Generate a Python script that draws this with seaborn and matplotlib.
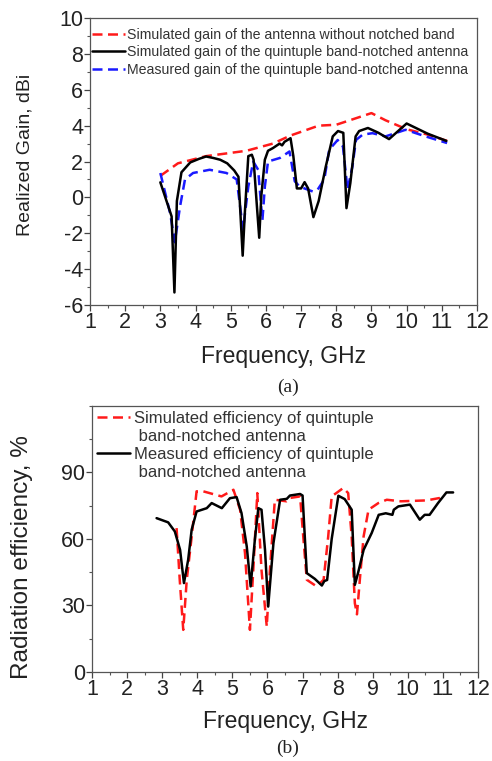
import matplotlib
matplotlib.use("Agg")
import matplotlib.pyplot as plt
import seaborn as sns
import pandas as pd
from matplotlib.lines import Line2D
from matplotlib.ticker import MultipleLocator

# ---------------- data: (a) realized gain ----------------
gain_nonotch_f = [3.0, 3.5, 4.3, 5.45, 6.2, 6.7, 7.5, 8.0, 9.0, 9.4, 10.0, 10.6, 11.15]
gain_nonotch_g = [1.2, 1.9, 2.3, 2.6, 3.0, 3.45, 4.0, 4.05, 4.7, 4.3, 3.8, 3.5, 3.15]

gain_sim_f = [3.0, 3.32, 3.4, 3.47, 3.6, 3.85, 4.1, 4.3, 4.5, 4.7, 4.9, 5.1, 5.22, 5.34,
              5.4, 5.5, 5.6, 5.65, 5.73, 5.81, 5.87, 5.97, 6.06, 6.2, 6.39, 6.46, 6.53,
              6.7, 6.78, 6.88, 7.0, 7.1, 7.2, 7.35, 7.5, 7.7, 7.9, 8.05, 8.2, 8.29, 8.4,
              8.55, 8.65, 8.9, 9.2, 9.5, 10.0, 10.6, 11.13]
gain_sim_g = [0.84, -1.06, -5.3, -0.2, 1.4, 1.95, 2.15, 2.28, 2.2, 2.1, 1.9, 1.5, 1.15, -3.25,
              -0.9, 2.3, 2.38, 2.1, -0.1, -2.25, 0.1, 2.1, 2.6, 2.75, 3.0, 2.9, 3.1,
              3.3, 2.3, 0.5, 0.5, 0.85, 0.5, -1.1, -0.2, 1.7, 3.4, 3.7, 3.6, -0.6, 0.8,
              3.4, 3.7, 3.87, 3.6, 3.25, 4.12, 3.55, 3.15]

gain_meas_f = [3.0, 3.28, 3.41, 3.56, 3.7, 3.93, 4.4, 4.88, 5.17, 5.35, 5.5, 5.64, 5.78,
               5.9, 5.97, 6.06, 6.4, 6.67, 6.82, 6.96, 7.33, 7.47, 7.66, 7.8, 8.04, 8.19,
               8.32, 8.46, 8.56, 8.75, 9.03, 9.4, 9.97, 10.54, 11.15]
gain_meas_g = [1.36, -0.9, -2.5, -0.5, 1.0, 1.36, 1.54, 1.36, 1.0, -1.8, 0.6, 2.0, 1.54,
               -1.3, 0.6, 2.0, 2.2, 2.56, 0.9, 0.6, 0.33, 0.43, 1.0, 2.66, 3.2, 2.84,
               0.43, 1.73, 3.2, 3.5, 3.58, 3.4, 3.77, 3.4, 3.03]

# ---------------- data: (b) radiation efficiency ----------------
eff_sim_f = [3.41, 3.5, 3.6, 3.7, 3.84, 3.98, 4.17, 4.69, 5.03, 5.22, 5.36, 5.5, 5.62,
             5.71, 5.83, 5.98, 6.07, 6.21, 6.54, 6.64, 6.93, 7.02, 7.12, 7.4, 7.6, 7.73,
             7.83, 8.16, 8.3, 8.4, 8.49, 8.55, 8.65, 8.74, 8.88, 9.16, 9.4, 9.8, 10.53,
             10.91, 11.0]
eff_sim_e = [64.9, 41.6, 19.0, 41.6, 61.0, 81.5, 81.5, 79.2, 82.2, 73.2, 53.6, 19.0, 53.0,
             80.7, 46.0, 20.5, 46.0, 77.7, 77.0, 78.5, 79.2, 61.0, 41.6, 38.6, 41.6, 61.0,
             79.2, 83.0, 80.7, 61.0, 31.0, 26.0, 45.0, 61.2, 73.2, 76.2, 77.7, 77.0, 77.4,
             78.5, 79.5]

eff_meas_f = [2.84, 3.17, 3.36, 3.51, 3.62, 3.74, 3.84, 3.98, 4.27, 4.41, 4.7, 4.93, 5.12,
              5.26, 5.41, 5.52, 5.64, 5.74, 5.83, 5.93, 6.02, 6.17, 6.36, 6.55, 6.64, 6.93,
              7.0, 7.12, 7.35, 7.55, 7.62, 7.7, 7.83, 8.02, 8.2, 8.4, 8.49, 8.58, 8.74,
              8.97, 9.17, 9.37, 9.56, 9.6, 9.73, 10.06, 10.34, 10.48, 10.62, 10.86, 11.1,
              11.29]
eff_meas_e = [69.4, 67.5, 63.4, 55.1, 40.1, 50.6, 64.2, 72.4, 73.9, 76.2, 73.9, 78.4, 78.9,
              71.7, 56.6, 38.6, 59.6, 73.9, 73.2, 55.1, 29.5, 58.1, 77.7, 78.1, 79.6, 80.3,
              79.6, 44.6, 42.0, 39.0, 41.0, 41.5, 60.0, 79.5, 78.0, 73.2, 39.3, 44.6, 55.1,
              62.7, 70.9, 71.6, 70.9, 73.2, 74.7, 75.5, 68.7, 70.9, 70.9, 76.2, 81.0, 81.0]

x_ticks = list(range(1, 13))
gain_ticks = list(range(-6, 11, 2))
eff_ticks = [0, 30, 60, 90]

labels_a = ["Simulated gain of the antenna without notched band",
            "Simulated gain of the quintuple band-notched antenna",
            "Measured gain of the quintuple band-notched antenna"]
labels_b = ["Simulated efficiency of quintuple", " band-notched antenna",
            "Measured efficiency of quintuple", " band-notched antenna"]

# ---------------- style ----------------
sns.set_theme(style="white")
plt.rcParams["font.family"] = ["Liberation Sans", "DejaVu Sans"]
plt.rcParams["axes.edgecolor"] = "#555555"
plt.rcParams["axes.linewidth"] = 0.9
plt.rcParams["axes.unicode_minus"] = False

RED = "#ff1a1a"
BLUE = "#1a1aff"
BLACK = "#000000"

fig = plt.figure(figsize=(4.92, 7.61), dpi=100)
ax1 = fig.add_axes([0.1829, 0.5992, 0.7866, 0.3771])
ax2 = fig.add_axes([0.187, 0.1170, 0.7846, 0.3495])

df_a1 = pd.DataFrame({"f": gain_nonotch_f, "g": gain_nonotch_g})
df_a2 = pd.DataFrame({"f": gain_sim_f, "g": gain_sim_g})
df_a3 = pd.DataFrame({"f": gain_meas_f, "g": gain_meas_g})

lw = 1.8
sns.lineplot(data=df_a1, x="f", y="g", ax=ax1, color=RED, lw=lw, estimator=None, sort=False)
sns.lineplot(data=df_a2, x="f", y="g", ax=ax1, color=BLACK, lw=lw, estimator=None, sort=False)
sns.lineplot(data=df_a3, x="f", y="g", ax=ax1, color=BLUE, lw=lw, estimator=None, sort=False)
l_red, l_blk, l_blu = ax1.get_lines()[:3]
l_red.set_dashes((4, 2.2))
l_blu.set_dashes((4, 2.2))
l_blk.set_zorder(3)

df_b1 = pd.DataFrame({"f": eff_sim_f, "e": eff_sim_e})
df_b2 = pd.DataFrame({"f": eff_meas_f, "e": eff_meas_e})
sns.lineplot(data=df_b1, x="f", y="e", ax=ax2, color=RED, lw=lw, estimator=None, sort=False)
sns.lineplot(data=df_b2, x="f", y="e", ax=ax2, color=BLACK, lw=lw, estimator=None, sort=False)
m_red, m_blk = ax2.get_lines()[:2]
m_red.set_dashes((4, 2.2))

TICKFS = 15.5
LABFS = 16.5
for ax in (ax1, ax2):
    ax.set_xlim(1, 12)
    ax.set_xticks(x_ticks)
    ax.xaxis.set_minor_locator(MultipleLocator(0.5))
    ax.tick_params(axis="both", which="both", bottom=True, left=True, top=False, right=False)
    ax.tick_params(axis="both", which="major", direction="out", length=4, width=0.9,
                   labelsize=TICKFS, colors="#444444", pad=1)
    ax.tick_params(axis="both", which="minor", direction="out", length=2.2, width=0.8,
                   colors="#555555")
    ax.tick_params(axis="both", labelcolor="#222222")
    for s in ax.spines.values():
        s.set_visible(True)
    ax.set_xlabel("Frequency, GHz", fontsize=LABFS, color="#222222")

ax1.set_ylim(-6, 10)
ax1.set_yticks(gain_ticks)
ax1.yaxis.set_minor_locator(MultipleLocator(1))
ax1.set_ylabel("Realized Gain, dBi", fontsize=14, color="#222222")
ax1.xaxis.set_label_coords(0.499, -0.139)
ax1.yaxis.set_label_coords(-0.147, 0.523)

ax2.set_ylim(0, 120)
ax2.set_yticks(eff_ticks)
ax2.yaxis.set_minor_locator(MultipleLocator(15))
ax2.set_ylabel("Radiation efficiency, %", fontsize=17.6, color="#222222")
ax2.xaxis.set_label_coords(0.5, -0.143)
ax2.yaxis.set_label_coords(-0.153, 0.432)

leg1 = ax1.legend([l_red, l_blk, l_blu], labels_a, loc="upper left",
                  bbox_to_anchor=(0.0015, 0.971), frameon=False,
                  fontsize=10.2, handlelength=2.3, handletextpad=0.2, labelspacing=0.26,
                  borderaxespad=0.0, borderpad=0.1)
for t in leg1.get_texts():
    t.set_color("#333333")

blank = Line2D([], [], color="none")
leg2 = ax2.legend([m_red, blank, m_blk, blank], labels_b, loc="upper left", frameon=False,
                  fontsize=12, handlelength=2.0, handletextpad=0.2, labelspacing=0.19,
                  borderaxespad=0.1, borderpad=0.2)
for t in leg2.get_texts():
    t.set_color("#333333")

fig.text(0.586, 0.4915, "(a)", ha="center", va="center", fontsize=14,
         family=["Liberation Serif", "DejaVu Serif"], color="#222222")
fig.text(0.584, 0.017, "(b)", ha="center", va="center", fontsize=14,
         family=["Liberation Serif", "DejaVu Serif"], color="#222222")

fig.savefig("out.png", dpi=100, facecolor="white")
